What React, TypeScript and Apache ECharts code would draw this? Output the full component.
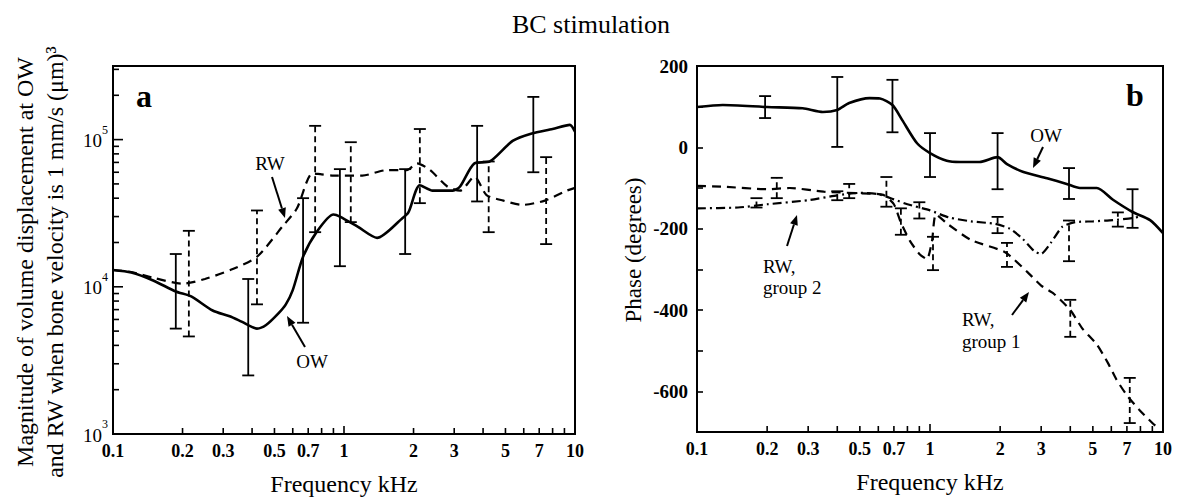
import React, { useEffect, useRef } from 'react';
import * as echarts from 'echarts';

const SERIF = '"Liberation Serif", "Times New Roman", serif';

// Axis ticks / labels
const freqTicks = [0.1, 0.2, 0.3, 0.4, 0.5, 0.6, 0.7, 0.8, 0.9, 1, 2, 3, 4, 5, 6, 7, 8, 9, 10];
const freqLabelValues = [0.1, 0.2, 0.3, 0.5, 0.7, 1, 2, 3, 5, 7, 10];
const magTicks = [1000, 2000, 3000, 4000, 5000, 6000, 7000, 8000, 9000, 10000, 20000, 30000, 40000, 50000, 60000, 70000, 80000, 90000, 100000, 200000, 300000];
const magDecades = [3, 4, 5];

// Panel a: magnitude [kHz, (um)^3]
const owMag = [
  [0.1, 13000], [0.12, 12500], [0.15, 11000], [0.187, 9300], [0.218, 8600], [0.27, 6900], [0.32, 6300],
  [0.36, 5800], [0.42, 5200], [0.46, 5500], [0.52, 6600], [0.56, 7600], [0.6, 9500], [0.665, 16000],
  [0.76, 23500], [0.9, 31000], [0.96, 30000], [1.15, 25500], [1.39, 21500], [1.78, 29000], [1.9, 32000],
  [2.13, 49000], [2.42, 45000], [2.96, 45000], [3.18, 48000], [3.67, 69000], [4.28, 71000], [5.37, 98000],
  [6.5, 110000], [8.0, 118000], [9.5, 126000], [10, 113000],
];
const rwMag = [
  [0.1, 13000], [0.12, 12600], [0.15, 11500], [0.2, 10500], [0.25, 11300], [0.33, 13200], [0.42, 16000],
  [0.545, 26000], [0.625, 34000], [0.73, 59000], [0.8, 58000], [0.9, 57000], [1.2, 57000], [1.53, 62000],
  [1.87, 62000], [2.07, 69000], [2.36, 62000], [2.8, 48000], [3.18, 45000], [3.67, 56000], [4.14, 42000],
  [4.9, 38500], [5.9, 36000], [7.4, 38500], [9.2, 45000], [10, 47000],
];
// error bars [kHz, low, high]
const owMagErr = [
  [0.187, 5200, 16700], [0.385, 2500, 11300], [0.665, 5700, 40000], [0.96, 13800, 63000],
  [1.84, 16700, 63000], [3.77, 38000, 124000], [6.6, 60000, 195000],
];
const rwMagErr = [
  [0.213, 4600, 24000], [0.42, 7600, 33000], [0.75, 23500, 124000], [1.07, 27500, 96000],
  [2.13, 37000, 118000], [4.23, 23500, 71000], [7.5, 19500, 76000],
];

// Panel b: phase [kHz, degrees]
const owPhase = [
  [0.1, 99], [0.129, 104], [0.2, 99], [0.284, 96], [0.347, 87], [0.4, 92], [0.45, 109], [0.55, 121],
  [0.61, 120], [0.69, 104], [0.76, 67], [0.88, 10], [1.0, -14], [1.18, -33], [1.35, -36], [1.63, -36],
  [1.95, -24], [2.14, -41], [2.5, -60], [3.18, -76], [3.86, -90], [4.4, -100], [5.2, -100], [6.1, -129],
  [7.4, -159], [8.8, -179], [10, -211],
];
const rwG1Phase = [
  [0.1, -95], [0.13, -97], [0.2, -103], [0.25, -100], [0.35, -109], [0.5, -113], [0.63, -117], [0.7, -140],
  [0.75, -185], [0.82, -230], [0.9, -262], [0.97, -275], [1.02, -230], [1.06, -165], [1.2, -190],
  [1.5, -228], [2.1, -258], [2.6, -305], [3.0, -340], [3.4, -360], [4.0, -400], [4.5, -445], [5.2, -485],
  [5.8, -530], [6.3, -570], [7.0, -610], [7.9, -645], [9.0, -678], [9.6, -692],
];
const rwG2Phase = [
  [0.1, -150], [0.15, -148], [0.2, -140], [0.3, -130], [0.4, -118], [0.5, -112], [0.6, -115], [0.7, -128],
  [0.8, -140], [1.0, -155], [1.2, -172], [1.5, -182], [1.9, -188], [2.2, -200], [2.5, -225], [2.8, -255],
  [3.0, -262], [3.3, -235], [3.7, -195], [4.2, -184], [5, -182], [6.1, -179], [7.4, -174], [8.0, -170],
];
const owPhaseErr = [
  [0.196, 72, 126], [0.4, 1, 173], [0.69, 37, 166], [1.0, -73, 35], [1.95, -103, 35], [3.95, -127, -51], [7.4, -198, -103],
];
const rwG1PhaseErr = [
  [0.22, -125, -75], [0.45, -125, -90], [0.75, -215, -150], [1.03, -302, -220], [2.14, -294, -235],
  [4.0, -466, -375], [7.2, -678, -567],
];
const rwG2PhaseErr = [
  [0.18, -148, -125], [0.4, -130, -108], [0.65, -146, -73], [0.9, -175, -135], [1.95, -211, -171],
  [3.95, -280, -180], [6.4, -195, -160],
];

const fmtFreq = (f: number) => (f < 1 ? f.toFixed(1) : String(f));

function errorBarSeries(data: number[][], axis: number, dashed: boolean) {
  return {
    type: 'custom',
    xAxisIndex: axis,
    yAxisIndex: axis,
    data,
    encode: { x: 0, y: [1, 2] },
    silent: true,
    renderItem: (_p: any, api: any) => {
      const lo = api.coord([api.value(0), api.value(1)]);
      const hi = api.coord([api.value(0), api.value(2)]);
      const w = 6;
      const cap = { stroke: '#000', lineWidth: 1.8 };
      return {
        type: 'group',
        children: [
          {
            type: 'line',
            shape: { x1: lo[0], y1: lo[1], x2: hi[0], y2: hi[1] },
            style: { stroke: '#000', lineWidth: 1.8, lineDash: dashed ? [6, 4] : null },
          },
          { type: 'line', shape: { x1: lo[0] - w, y1: lo[1], x2: lo[0] + w, y2: lo[1] }, style: cap },
          { type: 'line', shape: { x1: hi[0] - w, y1: hi[1], x2: hi[0] + w, y2: hi[1] }, style: cap },
        ],
      };
    },
  };
}

function xTickSeries(axis: number, yMin: number) {
  return {
    type: 'custom',
    xAxisIndex: axis,
    yAxisIndex: axis,
    silent: true,
    data: freqTicks.map((f) => [f, yMin, freqLabelValues.indexOf(f) >= 0 ? 1 : 0]),
    renderItem: (_p: any, api: any) => {
      const f = api.value(0);
      const p = api.coord([f, api.value(1)]);
      const major = f === 0.1 || f === 1 || f === 10;
      const children: any[] = [
        {
          type: 'line',
          shape: { x1: p[0], y1: p[1], x2: p[0], y2: p[1] - (major ? 8 : 6) },
          style: { stroke: '#000', lineWidth: 1.6 },
        },
      ];
      if (api.value(2) === 1) {
        children.push({
          type: 'text',
          x: p[0],
          y: p[1] + 8,
          style: {
            text: fmtFreq(f),
            fill: '#000',
            font: `bold 18px ${SERIF}`,
            align: 'center',
            verticalAlign: 'top',
          },
        });
      }
      return { type: 'group', children };
    },
  };
}

const magTickSeries = {
  type: 'custom',
  xAxisIndex: 0,
  yAxisIndex: 0,
  silent: true,
  data: magTicks.map((v) => [0.1, v]),
  renderItem: (_p: any, api: any) => {
    const v = api.value(1);
    const p = api.coord([api.value(0), v]);
    const lg = Math.log10(v);
    const major = Math.abs(lg - Math.round(lg)) < 1e-6;
    return {
      type: 'line',
      shape: { x1: p[0], y1: p[1], x2: p[0] + (major ? 10 : 6), y2: p[1] },
      style: { stroke: '#000', lineWidth: 1.6 },
    };
  },
};

const magLabelSeries = {
  type: 'custom',
  xAxisIndex: 0,
  yAxisIndex: 0,
  silent: true,
  data: magDecades.map((e) => [0.1, Math.pow(10, e), e]),
  renderItem: (_p: any, api: any) => {
    const p = api.coord([api.value(0), api.value(1)]);
    return {
      type: 'group',
      children: [
        {
          type: 'text',
          x: p[0] - 11,
          y: p[1] + 1,
          style: { text: '10', fill: '#000', font: `19px ${SERIF}`, align: 'right', verticalAlign: 'middle' },
        },
        {
          type: 'text',
          x: p[0] - 11,
          y: p[1] - 10,
          style: { text: String(api.value(2)), fill: '#000', font: `12px ${SERIF}`, align: 'left', verticalAlign: 'middle' },
        },
      ],
    };
  },
};

function arrow(x1: number, y1: number, x2: number, y2: number) {
  const ang = Math.atan2(y2 - y1, x2 - x1);
  const L = 10;
  const W = 4;
  const bx = x2 - L * Math.cos(ang);
  const by = y2 - L * Math.sin(ang);
  const px = -Math.sin(ang) * W;
  const py = Math.cos(ang) * W;
  return [
    { type: 'line', shape: { x1, y1, x2: bx, y2: by }, style: { stroke: '#000', lineWidth: 2 } },
    {
      type: 'polygon',
      shape: { points: [[x2, y2], [bx + px, by + py], [bx - px, by - py]] },
      style: { fill: '#000' },
    },
  ];
}

function label(text: string, x: number, y: number, size: number, extra: any = {}) {
  return {
    type: 'text',
    x,
    y,
    style: {
      text,
      fill: '#000',
      font: `${extra.bold ? 'bold ' : ''}${size}px ${SERIF}`,
      align: extra.align || 'center',
      verticalAlign: 'middle',
      lineHeight: extra.lineHeight,
    },
    rotation: extra.rotation || 0,
  };
}

const lineStyleBase = { color: '#000' };

export default function App() {
  const ref = useRef<HTMLDivElement>(null);
  useEffect(() => {
    if (!ref.current) return;
    const chart = echarts.init(ref.current, undefined, { renderer: 'svg' });
    const axisLine = { show: true, onZero: false, lineStyle: { color: '#000', width: 2 } };
    const option: any = {
      animation: false,
      backgroundColor: '#fff',
      grid: [
        { left: 113, top: 66, width: 462, height: 369, show: true, borderColor: '#000', borderWidth: 2, backgroundColor: 'transparent' },
        { left: 697, top: 66, width: 466, height: 366, show: true, borderColor: '#000', borderWidth: 2, backgroundColor: 'transparent' },
      ],
      xAxis: [0, 1].map((i) => ({
        gridIndex: i,
        type: 'log',
        logBase: 10,
        min: 0.1,
        max: 10,
        axisLine,
        axisTick: { show: false },
        axisLabel: { show: false },
        splitLine: { show: false },
        name: 'Frequency kHz',
        nameLocation: 'middle',
        nameGap: 38,
        nameTextStyle: { fontFamily: SERIF, fontSize: 24, color: '#000' },
      })),
      yAxis: [
        {
          gridIndex: 0,
          type: 'log',
          logBase: 10,
          min: 1000,
          max: Math.pow(10, 5.5),
          axisLine,
          axisTick: { show: false },
          axisLabel: { show: false },
          splitLine: { show: false },
        },
        {
          gridIndex: 1,
          type: 'value',
          min: -700,
          max: 200,
          interval: 100,
          axisLine,
          axisTick: { show: true, inside: true, length: 6, lineStyle: { color: '#000', width: 1.6 } },
          axisLabel: {
            formatter: (v: number) => (v % 200 === 0 ? String(v) : ''),
            fontFamily: SERIF,
            fontSize: 19,
            fontWeight: 'bold',
            color: '#000',
            margin: 9,
          },
          splitLine: { show: false },
        },
      ],
      series: [
        { type: 'line', xAxisIndex: 0, yAxisIndex: 0, data: owMag, symbol: 'none', smooth: 0.25, lineStyle: { ...lineStyleBase, width: 2.6, type: 'solid' } },
        { type: 'line', xAxisIndex: 0, yAxisIndex: 0, data: rwMag, symbol: 'none', smooth: 0.25, lineStyle: { ...lineStyleBase, width: 2.2, type: [9, 6] } },
        errorBarSeries(owMagErr, 0, false),
        errorBarSeries(rwMagErr, 0, true),
        { type: 'line', xAxisIndex: 1, yAxisIndex: 1, data: owPhase, symbol: 'none', smooth: 0.25, lineStyle: { ...lineStyleBase, width: 2.6, type: 'solid' } },
        { type: 'line', xAxisIndex: 1, yAxisIndex: 1, data: rwG1Phase, symbol: 'none', smooth: 0.2, lineStyle: { ...lineStyleBase, width: 2.2, type: [9, 6] } },
        { type: 'line', xAxisIndex: 1, yAxisIndex: 1, data: rwG2Phase, symbol: 'none', smooth: 0.2, lineStyle: { ...lineStyleBase, width: 2.2, type: [9, 4, 2, 4] } },
        errorBarSeries(owPhaseErr, 1, false),
        errorBarSeries(rwG1PhaseErr, 1, true),
        errorBarSeries(rwG2PhaseErr, 1, true),
        xTickSeries(0, 1000),
        xTickSeries(1, -700),
        magTickSeries,
        magLabelSeries,
      ],
      graphic: [
        label('BC stimulation', 591, 24, 26),
        label('a', 144, 96, 32, { bold: true }),
        label('b', 1135, 95, 32, { bold: true }),
        {
          type: 'text',
          x: 40,
          y: 262,
          rotation: Math.PI / 2,
          style: {
            text: 'Magnitude of volume displacement at OW\nand RW when bone velocity is 1 mm/s (μm)³',
            fill: '#000',
            font: `24px ${SERIF}`,
            align: 'center',
            verticalAlign: 'middle',
            lineHeight: 30,
          },
        },
        label('Phase (degrees)', 633, 250, 23, { rotation: Math.PI / 2 }),
        label('RW', 270, 163, 19),
        ...arrow(272, 177, 285, 218),
        label('OW', 312, 361, 19),
        ...arrow(305, 347, 287, 316),
        label('OW', 1046, 135, 19),
        ...arrow(1043, 147, 1033, 168),
        label('RW,\ngroup 2', 763, 277, 19, { align: 'left', lineHeight: 21 }),
        ...arrow(787, 246, 797, 215),
        label('RW,\ngroup 1', 962, 330, 19, { align: 'left', lineHeight: 22 }),
        ...arrow(1012, 315, 1029, 292),
      ],
    };
    chart.setOption(option);
    return () => chart.dispose();
  }, []);
  return (
    <div
      ref={ref}
      style={{ position: 'absolute', left: 0, top: 0, width: 1183, height: 501, background: '#fff' }}
    />
  );
}
